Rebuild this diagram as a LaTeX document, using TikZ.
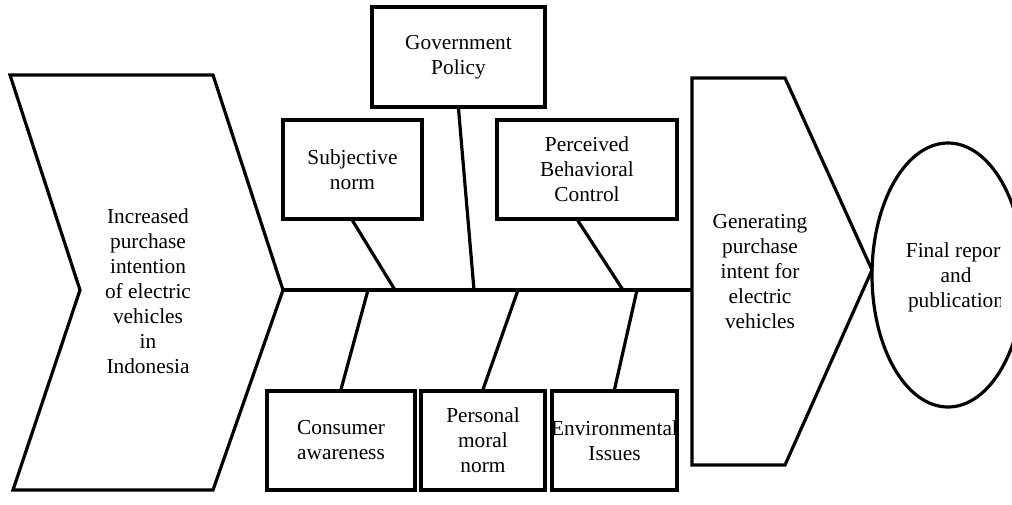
\documentclass[tikz,border=0pt]{standalone}
\usepackage{fontspec}
\setmainfont{Liberation Serif}
\usetikzlibrary{shapes.geometric, calc}

\begin{document}
\begin{tikzpicture}[
    x=0.75pt, y=-0.75pt,
    every node/.style = {font=\fontsize{16}{18.75}\selectfont, align=center},
    heavy/.style      = {draw, line width=2.4pt},
    causebox/.style   = {heavy, minimum width=#1, minimum height=74.25pt, inner sep=1pt},
    bone/.style       = {line width=2.4pt}
]
\useasboundingbox (0,0) rectangle (1012,504);
\draw[heavy] (10,75) -- (213,75) -- (283,290) coordinate (tail) -- (213,490) -- (13,490) -- (80,290) -- cycle;
\node (effect) at (148,291) {Increased\\purchase\\intention\\of electric\\vehicles\\in\\Indonesia};
\draw[heavy] (692,78) -- (785,78) -- (872,270) coordinate (tip) -- (785,465) -- (692,465) -- cycle;
\coordinate (head) at (692,290);
\node (goal) at (760,272) {Generating\\purchase\\intent for\\electric\\vehicles};
\node[heavy, ellipse, minimum width=114pt, minimum height=198pt, inner sep=0pt] (final) at (948,275) {};
\begin{scope}
  \clip (872,140) rectangle (1000,410);
  \node (final-text) at (956,277) {Final report\\and\\publication};
\end{scope}
\draw[bone] (tail) -- (head);
\foreach \n/\x in {cons/368, subj/395, gov/474, moral/518, pbc/623, env/637}
  \coordinate (on-\n) at (\x,290);
\node[causebox=129.75pt, minimum height=75pt] (gov) at (458.5,57) {Government\\Policy};
\node[causebox=104.25pt] (subj)  at (352.5,169.5) {Subjective\\norm};
\node[causebox=135pt]    (pbc)   at (587,169.5)   {Perceived\\Behavioral\\Control};
\node[causebox=111pt]    (cons)  at (341,440.5)   {Consumer\\awareness};
\node[causebox=93pt]     (moral) at (483,440.5)   {Personal\\moral\\norm};
\node[causebox=93.75pt]  (env)   at (614.5,440.5) {\makebox[0pt]{Environmental}\\Issues};
\foreach \b in {subj, gov}
  \draw[bone] (\b.south) -- (on-\b);
\draw[bone] ($(pbc.south west)!0.45!(pbc.south east)$) -- (on-pbc);
\foreach \b in {cons, moral, env}
  \draw[bone] (\b.north) -- (on-\b);
\end{tikzpicture}
\end{document}
